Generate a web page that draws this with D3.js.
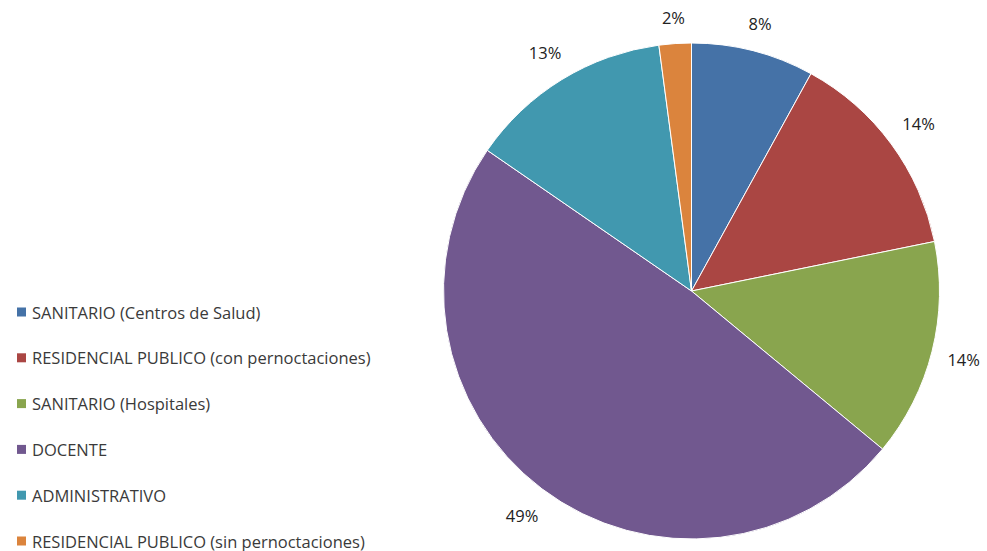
<!DOCTYPE html>
<html>
<head>
<meta charset="utf-8">
<script src="https://cdn.jsdelivr.net/npm/d3@7"></script>
<style>
  html, body { margin: 0; padding: 0; background: #fff; }
  svg { display: block; }
</style>
</head>
<body>
<svg id="chart" width="987" height="551"></svg>
<script>
const categories = [
  "SANITARIO (Centros de Salud)",
  "RESIDENCIAL PUBLICO (con pernoctaciones)",
  "SANITARIO (Hospitales)",
  "DOCENTE",
  "ADMINISTRATIVO",
  "RESIDENCIAL PUBLICO (sin pernoctaciones)"
];
const values = [8.0, 13.8, 14.2, 48.6, 13.3, 2.1];
const colors = ["#4572A7", "#AA4643", "#89A54E", "#71588F", "#4198AF", "#DB843D"];

const svg = d3.select("#chart");
const cx = 691.5, cy = 291, R = 248;
const font = "Open Sans, Liberation Sans, sans-serif";

const total = d3.sum(values);
const pie = d3.pie().sort(null).value(d => d)(values);
const arc = d3.arc().innerRadius(0).outerRadius(R);
const color = d3.scaleOrdinal().domain(categories).range(colors);

const g = svg.append("g").attr("transform", `translate(${cx},${cy})`);
g.selectAll("path.slice")
  .data(pie)
  .join("path")
  .attr("class", "slice")
  .attr("d", arc)
  .attr("fill", (d, i) => color(categories[i]))
  .attr("stroke", "#ffffff")
  .attr("stroke-width", 1);

const fmt = d3.format(".0%");
const gap = 14;
g.selectAll("text.lbl")
  .data(pie)
  .join("text")
  .attr("class", "lbl")
  .attr("font-family", font)
  .attr("font-size", 16.5)
  .attr("fill", "#222222")
  .attr("text-anchor", "middle")
  .attr("dominant-baseline", "central")
  .text(d => fmt(d.data / total))
  .each(function(d) {
    const bb = this.getBBox();
    const a = (d.startAngle + d.endAngle) / 2;
    const sx = Math.sin(a), sy = -Math.cos(a);
    const ext = Math.abs(bb.width / 2 * sx) + Math.abs(bb.height / 2 * sy);
    const r = R + gap + ext;
    d3.select(this).attr("x", r * sx).attr("y", r * sy);
  });

// legend
const legendY = d3.scalePoint().domain(categories).range([312, 541]);
const lg = svg.append("g");
const rows = lg.selectAll("g.row").data(categories).join("g")
  .attr("class", "row")
  .attr("transform", d => `translate(17,${legendY(d)})`);
rows.append("rect")
  .attr("x", 0).attr("y", -4.5).attr("width", 9).attr("height", 9)
  .attr("fill", d => color(d));
rows.append("text")
  .attr("x", 15).attr("y", 0)
  .attr("dominant-baseline", "central")
  .attr("font-family", font)
  .attr("font-size", 16.5)
  .attr("fill", "#3a3a3a")
  .text(d => d);
</script>
</body>
</html>
